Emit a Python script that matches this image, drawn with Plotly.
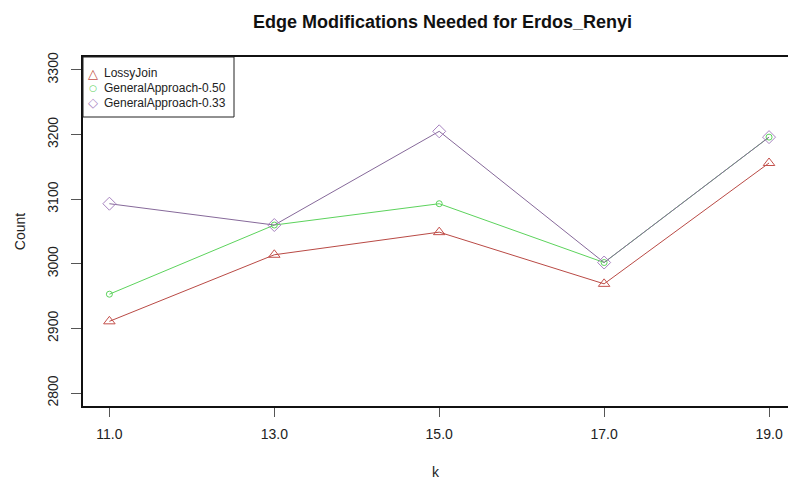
import plotly.graph_objects as go

# k values on the x axis
k_values = [11, 13, 15, 17, 19]
k_labels = ["11.0", "13.0", "15.0", "17.0", "19.0"]

# Edge modification counts per method
lossy_join = [2911, 3014, 3049, 2969, 3156]
general_050 = [2953, 3060, 3093, 3002, 3196]
general_033 = [3093, 3060, 3205, 3002, 3196]

y_ticks = [2800, 2900, 3000, 3100, 3200, 3300]

series = [
    ("LossyJoin", lossy_join, "#b94a45", "#c4504b", "triangle-up-open", 10, "\u25b3", 13),
    ("GeneralApproach-0.50", general_050, "#5cd35c", "#5cd35c", "circle-open", 6, "\u25cb", 9),
    ("GeneralApproach-0.33", general_033, "#86699a", "#a783bf", "diamond-open", 10, "\u25c7", 13),
]

FONT = "Liberation Sans, Arial, sans-serif"
W, H = 788, 482
L, R, T, B = 83, 0, 57, 76
PW, PH = W - L - R, H - T - B

fig = go.Figure()
for name, vals, line_col, mk_col, sym, size, _, _ in series:
    fig.add_trace(go.Scatter(
        x=k_values, y=vals, mode="lines+markers", name=name, showlegend=False,
        line=dict(color=line_col, width=1),
        marker=dict(symbol=sym, size=size, color=mk_col,
                    line=dict(color=mk_col, width=1)),
    ))

# legend box in the top-left corner of the plot area, entries as point glyphs
def px_x(p):
    return (p - L) / PW

def px_y(p):
    return 1 - (p - T) / PH

fig.add_shape(type="rect", xref="paper", yref="paper",
              x0=px_x(L), x1=px_x(234), y0=px_y(117), y1=px_y(T),
              line=dict(color="#222222", width=1), fillcolor="white", layer="above")
for i, (name, _, _, mk_col, _, _, glyph, gsize) in enumerate(series):
    yc = px_y(73 + 15 * i)
    fig.add_annotation(xref="paper", yref="paper", x=px_x(93), y=yc,
                       text=glyph, showarrow=False, xanchor="center", yanchor="middle",
                       font=dict(family="DejaVu Sans", size=gsize, color=mk_col))
    fig.add_annotation(xref="paper", yref="paper", x=px_x(102), y=yc,
                       text=name, showarrow=False, xanchor="left", yanchor="middle",
                       font=dict(family=FONT, size=12, color="#222222"))

fig.update_layout(
    width=W, height=H,
    margin=dict(l=L, r=R, t=T, b=B, autoexpand=False),
    paper_bgcolor="white", plot_bgcolor="white",
    font=dict(family=FONT, color="#222222", size=14),
    title=dict(
        text="<b>Edge Modifications Needed for Erdos_Renyi</b>",
        x=(442.5 - L) / PW, xanchor="center", xref="paper",
        y=1 - 21.5 / H, yanchor="middle", yref="container",
        font=dict(family=FONT, size=18, color="#111111"),
    ),
    showlegend=False,
)

fig.update_xaxes(
    range=[10.68, 19.23],
    tickvals=k_values, ticktext=k_labels,
    ticks="outside", ticklen=9, tickcolor="#555555", tickwidth=1,
    ticklabelstandoff=5,
    showline=True, linecolor="#111111", linewidth=1.5, mirror=True,
    showgrid=False, zeroline=False,
    tickfont=dict(size=14),
    title=dict(text="k", standoff=27, font=dict(size=14)),
    automargin=False,
)
fig.update_yaxes(
    range=[2780, 3320],
    tickvals=y_ticks, ticktext=[str(v) for v in y_ticks],
    tickangle=-90,
    ticks="outside", ticklen=10, tickcolor="#555555", tickwidth=1,
    ticklabelstandoff=8,
    showline=True, linecolor="#111111", linewidth=1.5, mirror=False,
    showgrid=False, zeroline=False,
    tickfont=dict(size=14),
    title=dict(text="Count", standoff=16, font=dict(size=14)),
    automargin=False,
)

fig.write_html("out.html")
